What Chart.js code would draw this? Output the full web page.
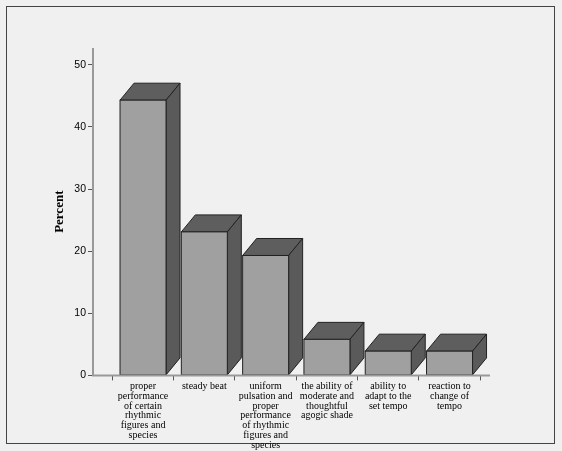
<!DOCTYPE html>
<html>
<head>
<meta charset="UTF-8">
<script src="https://cdn.jsdelivr.net/npm/chart.js"></script>
<style>
  body { margin: 0; background: #f0f0f0; }
  #wrap { width: 562px; height: 451px; }
</style>
</head>
<body>
<div id="wrap"><canvas id="c"></canvas></div>
<script>
const categories = [
  ["proper", "performance", "of certain", "rhythmic", "figures and", "species"],
  ["steady beat"],
  ["uniform", "pulsation and", "proper", "performance", "of rhythmic", "figures and", "species"],
  ["the ability of", "moderate and", "thoughtful", "agogic shade"],
  ["ability to", "adapt to the", "set tempo"],
  ["reaction to", "change of", "tempo"]
];
const percent = [44.3, 23.1, 19.3, 5.8, 3.9, 3.9];
const yTicks = [0, 10, 20, 30, 40, 50];

const DX = 14, DY = 17;

const bg = {
  id: "bg",
  beforeDraw(chart) {
    const c = chart.ctx;
    c.save();
    c.fillStyle = "#f0f0f0";
    c.fillRect(0, 0, chart.width, chart.height);
    c.strokeStyle = "#444";
    c.lineWidth = 1;
    c.strokeRect(6.5, 6.5, 548, 437);
    c.restore();
  }
};

const axes = {
  id: "axes",
  afterDraw(chart) {
    const c = chart.ctx, a = chart.chartArea;
    c.save();
    c.strokeStyle = "#999";
    c.lineWidth = 2;
    c.beginPath();
    c.moveTo(a.left, a.top);
    c.lineTo(a.left, a.bottom);
    c.lineTo(a.right, a.bottom);
    c.stroke();
    c.restore();
  }
};

const bar3d = {
  id: "bar3d",
  afterDatasetsDraw(chart) {
    const c = chart.ctx;
    const meta = chart.getDatasetMeta(0);
    c.save();
    c.strokeStyle = "#222";
    c.lineWidth = 1;
    meta.data.forEach(b => {
      const l = b.x - b.width / 2, r = b.x + b.width / 2, t = b.y, bot = b.base;
      c.fillStyle = "#5e5e5e";
      c.beginPath();
      c.moveTo(l, t); c.lineTo(l + DX, t - DY); c.lineTo(r + DX, t - DY); c.lineTo(r, t); c.closePath();
      c.fill(); c.stroke();
      c.fillStyle = "#5a5a5a";
      c.beginPath();
      c.moveTo(r, t); c.lineTo(r + DX, t - DY); c.lineTo(r + DX, bot - DY); c.lineTo(r, bot); c.closePath();
      c.fill(); c.stroke();
      c.fillStyle = "#a0a0a0";
      c.fillRect(l, t, r - l, bot - t);
      c.strokeRect(l, t, r - l, bot - t);
    });
    c.restore();
  }
};

new Chart(document.getElementById("c"), {
  type: "bar",
  data: {
    datasets: [{
      data: percent.map((v, i) => ({ x: i, y: v })),
      backgroundColor: "rgba(0,0,0,0)",
      barThickness: 46
    }]
  },
  options: {
    responsive: true,
    maintainAspectRatio: false,
    animation: false,
    layout: { padding: { top: 48, right: 72, bottom: 0, left: 52 } },
    plugins: { legend: { display: false }, tooltip: { enabled: false } },
    scales: {
      x: {
        type: "linear",
        offset: false,
        min: -0.816,
        max: 5.66,
        afterBuildTicks: s => { s.ticks = categories.map((_, i) => ({ value: i })); },
        border: { display: false },
        grid: { drawOnChartArea: false, color: "#555", tickLength: 5 },
        ticks: {
          color: "#000",
          maxRotation: 0,
          autoSkip: false,
          padding: 1,
          font: { family: "Liberation Serif", size: 10, lineHeight: 0.98 },
          callback: v => categories[v]
        }
      },
      y: {
        min: 0,
        max: 52.7,
        afterBuildTicks: s => { s.ticks = yTicks.map(v => ({ value: v })); },
        border: { display: false },
        grid: { drawOnChartArea: false, color: "#555", tickLength: 5 },
        ticks: { color: "#000", padding: 2, font: { family: "Liberation Sans", size: 10.5 } },
        title: {
          display: true, text: "Percent", color: "#000",
          font: { family: "Liberation Serif", size: 13, weight: "bold" },
          padding: 0
        },
        afterFit: s => { s.width = 41; }
      }
    }
  },
  plugins: [bg, bar3d, axes]
});
</script>
</body>
</html>
